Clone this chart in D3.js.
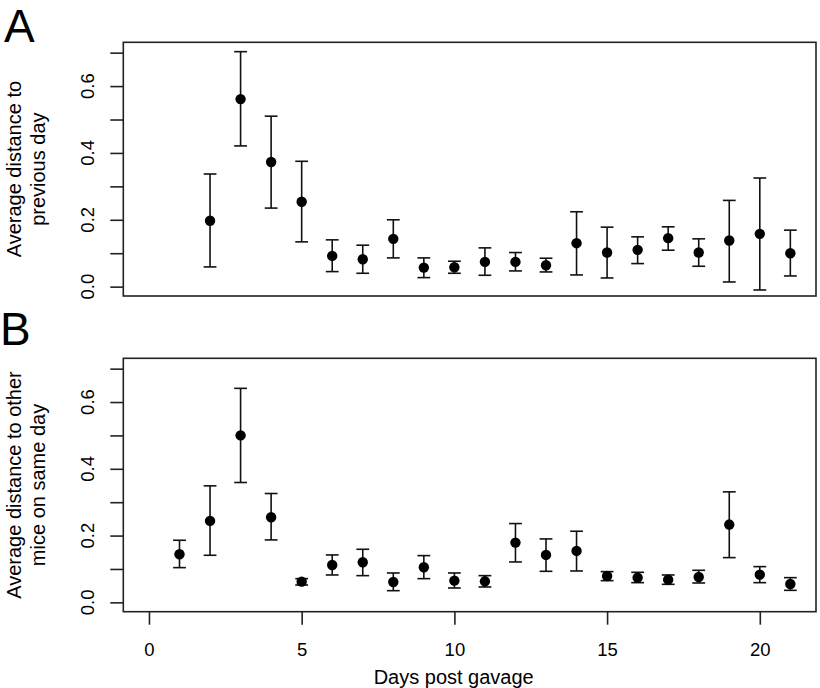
<!DOCTYPE html>
<html>
<head>
<meta charset="utf-8">
<script src="https://cdn.jsdelivr.net/npm/d3@7"></script>
<style>
  body { margin: 0; background: #fff; }
  text { font-family: "Liberation Sans", Arial, sans-serif; fill: #000; }
</style>
</head>
<body>
<div id="chart"></div>
<script>
// panel A: distance to previous day (days 2..21)
const daysA = [2, 3, 4, 5, 6, 7, 8, 9, 10, 11, 12, 13, 14, 15, 16, 17, 18, 19, 20, 21]
const meanA = [0.197, 0.561, 0.373, 0.254, 0.092, 0.082, 0.143, 0.057, 0.058, 0.074, 0.074, 0.064, 0.130, 0.102, 0.110, 0.145, 0.102, 0.138, 0.158, 0.100]
const upA   = [0.337, 0.703, 0.510, 0.375, 0.140, 0.124, 0.200, 0.086, 0.076, 0.116, 0.102, 0.085, 0.224, 0.178, 0.149, 0.179, 0.143, 0.258, 0.325, 0.169]
const loA   = [0.059, 0.421, 0.235, 0.134, 0.045, 0.040, 0.086, 0.027, 0.040, 0.034, 0.047, 0.044, 0.035, 0.026, 0.069, 0.109, 0.061, 0.014, -0.010, 0.032]

// panel B: distance to other mice on same day (days 1..21)
const daysB = [1, 2, 3, 4, 5, 6, 7, 8, 9, 10, 11, 12, 13, 14, 15, 16, 17, 18, 19, 20, 21]
const meanB = [0.144, 0.244, 0.500, 0.255, 0.062, 0.112, 0.120, 0.061, 0.105, 0.065, 0.063, 0.179, 0.142, 0.154, 0.079, 0.074, 0.068, 0.076, 0.233, 0.083, 0.055]
const upB   = [0.186, 0.349, 0.641, 0.326, 0.071, 0.142, 0.159, 0.088, 0.140, 0.088, 0.080, 0.236, 0.190, 0.213, 0.092, 0.090, 0.082, 0.096, 0.331, 0.107, 0.074]
const loB   = [0.104, 0.141, 0.359, 0.187, 0.052, 0.082, 0.080, 0.035, 0.071, 0.043, 0.046, 0.121, 0.093, 0.094, 0.065, 0.059, 0.054, 0.058, 0.134, 0.059, 0.036]

const xTicks = [0, 5, 10, 15, 20]
const yTicks = [0, 0.1, 0.2, 0.3, 0.4, 0.5, 0.6, 0.7]
const yLabelTicks = [0, 0.2, 0.4, 0.6]

const width = 820,
    height = 688

const svg = d3.select("#chart").append("svg")
        .attr("width", width)
        .attr("height", height)

const left = 123.3,
    right = 816

const x = d3.scaleLinear().domain([-0.84, 21.84]).range([left, right])

const drawPanel = (top, bottom, days, mean, up, lo, letter, letterY, labelLines, showX) => {
    const y = d3.scaleLinear().domain([-0.028, 0.731]).range([bottom, top])
    const g = svg.append("g")

    g.append("rect")
        .attr("x", left).attr("y", top)
        .attr("width", right - left).attr("height", bottom - top)
        .attr("fill", "none").attr("stroke", "#222").attr("stroke-width", 1.6)

    // y axis: R style, ticks every 0.1, labels on the even ones
    const yAxis = g.append("g")
        .attr("transform", "translate(" + left + ",0)")
        .call(d3.axisLeft(y).tickValues(yTicks).tickSize(13).tickFormat(""))
    yAxis.select(".domain").remove()
    yAxis.selectAll("line").attr("stroke", "#222").attr("stroke-width", 1.6)

    g.selectAll(".ylab")
        .data(yLabelTicks)
        .enter()
        .append("text")
        .attr("transform", d => "translate(94," + y(d) + ") rotate(-90)")
        .attr("text-anchor", "middle")
        .attr("font-size", 18.5)
        .text(d => d3.format(".1f")(d))

    const mid = (top + bottom) / 2
    labelLines.forEach((t, i) => {
        g.append("text")
            .attr("transform", "translate(" + (21 + i * 24) + "," + mid + ") rotate(-90)")
            .attr("text-anchor", "middle")
            .attr("font-size", 20)
            .text(t)
    })

    g.append("text")
        .attr("x", letter == "A" ? 4 : 0).attr("y", letterY)
        .attr("font-size", 46)
        .text(letter)

    const pts = days.map((d, i) => ({ day: d, m: mean[i], u: up[i], l: lo[i] }))

    g.selectAll(".bar")
        .data(pts)
        .enter()
        .append("line")
        .attr("x1", d => x(d.day)).attr("x2", d => x(d.day))
        .attr("y1", d => y(d.u)).attr("y2", d => y(d.l))
        .attr("stroke", "#111").attr("stroke-width", 1.6)

    const caps = pts.flatMap(d => [{ day: d.day, v: d.u }, { day: d.day, v: d.l }])
    g.selectAll(".cap")
        .data(caps)
        .enter()
        .append("line")
        .attr("x1", d => x(d.day) - 6.4).attr("x2", d => x(d.day) + 6.4)
        .attr("y1", d => y(d.v)).attr("y2", d => y(d.v))
        .attr("stroke", "#111").attr("stroke-width", 1.6)

    g.selectAll("circle")
        .data(pts)
        .enter()
        .append("circle")
        .attr("cx", d => x(d.day))
        .attr("cy", d => y(d.m))
        .attr("r", 5.2)
        .attr("fill", "#000")

    if (showX) {
        const xAxis = g.append("g")
            .attr("transform", "translate(0," + bottom + ")")
            .call(d3.axisBottom(x).tickValues(xTicks).tickSize(13).tickPadding(18))
        xAxis.select(".domain").remove()
        xAxis.selectAll("line").attr("stroke", "#222").attr("stroke-width", 1.6)
        xAxis.selectAll("text").attr("font-size", 18.5)
            .style("font-family", '"Liberation Sans", Arial, sans-serif').attr("fill", "#000")

        g.append("text")
            .attr("x", 453.7).attr("y", 684)
            .attr("text-anchor", "middle")
            .attr("font-size", 20)
            .text("Days post gavage")
    }
}

drawPanel(42.3, 296, daysA, meanA, upA, loA, "A", 41.7, ["Average distance to", "previous day"], false)
drawPanel(358.3, 611.7, daysB, meanB, upB, loB, "B", 345, ["Average distance to other", "mice on same day"], true)
</script>
</body>
</html>
